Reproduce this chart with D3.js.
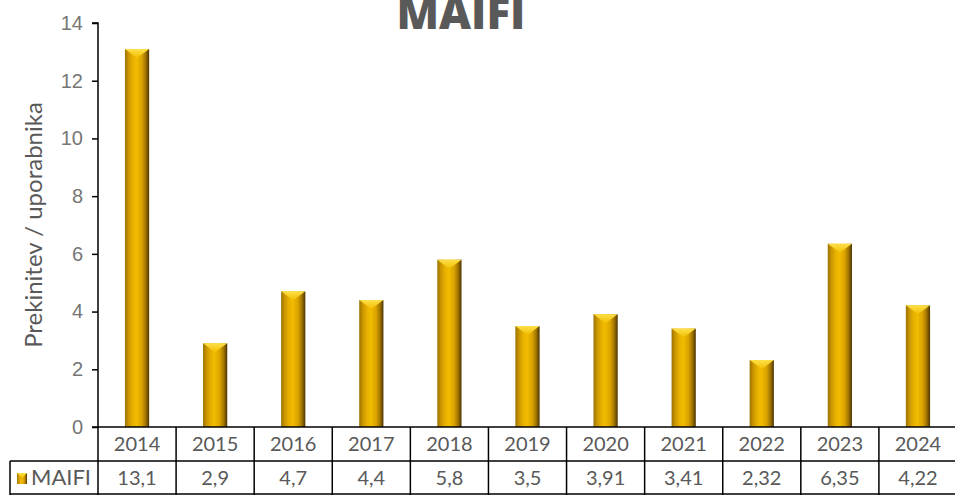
<!DOCTYPE html>
<html>
<head>
<meta charset="utf-8">
<script src="https://cdn.jsdelivr.net/npm/d3@7"></script>
<style>
  html, body { margin: 0; padding: 0; background: #fff; }
  svg { display: block; font-family: Lato, "Open Sans", sans-serif; }
</style>
</head>
<body>
<svg id="chart" width="955" height="495"></svg>
<script>
// MAIFI per year – momentary interruptions per customer
const years = ["2014", "2015", "2016", "2017", "2018", "2019", "2020", "2021", "2022", "2023", "2024"];
const maifi = [13.1, 2.9, 4.7, 4.4, 5.8, 3.5, 3.91, 3.41, 2.32, 6.35, 4.22];
const yTicks = [0, 2, 4, 6, 8, 10, 12, 14];
const seriesName = "MAIFI";
const yLabel = "Prekinitev / uporabnika";

const svg = d3.select("#chart");
const textColor = "#595959";
const tickColor = "#767676";

const plot = { left: 98, right: 957, top: 23, bottom: 427 };
const rowH = 34;

const x = d3.scaleBand().domain(years).range([plot.left, plot.right]).padding(0);
const y = d3.scaleLinear().domain([0, 14]).range([plot.bottom, plot.top]);

// gradients for the bevelled gold bars
const defs = svg.append("defs");
const g = defs.append("linearGradient").attr("id", "gold").attr("x1", "0").attr("x2", "1").attr("y1", "0").attr("y2", "0");
[["0%", "#9a7200"], ["14%", "#c89400"], ["32%", "#e8b000"], ["48%", "#f2bc00"], ["70%", "#d9a200"], ["86%", "#a07400"], ["100%", "#4a3300"]]
  .forEach(([o, c]) => g.append("stop").attr("offset", o).attr("stop-color", c));
const gt = defs.append("linearGradient").attr("id", "goldTop").attr("x1", "0").attr("x2", "0").attr("y1", "0").attr("y2", "1");
gt.append("stop").attr("offset", "0%").attr("stop-color", "#ffe04a");
gt.append("stop").attr("offset", "100%").attr("stop-color", "#f0be00");

// title
svg.append("text")
  .attr("x", 461).attr("y", 29)
  .attr("text-anchor", "middle")
  .attr("font-size", 44).attr("font-weight", 800)
  .attr("font-family", "'Open Sans', Lato, sans-serif")
  .attr("fill", textColor)
  .text(seriesName);

// y axis label
svg.append("text")
  .attr("transform", `translate(42,${(plot.top + plot.bottom) / 2}) rotate(-90)`)
  .attr("text-anchor", "middle")
  .attr("font-size", 24)
  .attr("fill", textColor)
  .text(yLabel);

// bars
const barW = x.bandwidth() * 0.31;
const barX = d => x(d) + (x.bandwidth() - barW) / 2;
const bars = svg.append("g").selectAll("g").data(years).join("g");
bars.append("rect")
  .attr("x", barX)
  .attr("y", (d, i) => y(maifi[i]))
  .attr("width", barW)
  .attr("height", (d, i) => y(0) - y(maifi[i]))
  .attr("fill", "url(#gold)");
// top bevel chevron
bars.append("path")
  .attr("d", (d, i) => {
    const x0 = barX(d), yt = y(maifi[i]);
    return `M${x0},${yt}L${x0 + barW},${yt}L${x0 + barW / 2},${yt + 9}Z`;
  })
  .attr("fill", "url(#goldTop)");

// y axis
const yAxis = svg.append("g")
  .attr("transform", `translate(${plot.left},0)`)
  .call(d3.axisLeft(y).tickValues(yTicks).tickSize(6).tickPadding(9).tickFormat(d3.format("d")));
yAxis.select(".domain").attr("stroke", "#000").attr("stroke-width", 1.5).attr("d", `M-6,${plot.top}H0V${plot.bottom}`);
yAxis.selectAll(".tick line").attr("stroke", "#000").attr("stroke-width", 1.5);
yAxis.selectAll(".tick text").attr("fill", tickColor).attr("font-size", 20);

// data table below the plot
const table = svg.append("g").attr("stroke", "#000").attr("stroke-width", 1.5);
const row1 = plot.bottom, row2 = plot.bottom + rowH, row3 = plot.bottom + 2 * rowH;
table.append("line").attr("x1", plot.left - 6).attr("x2", plot.right).attr("y1", row1).attr("y2", row1);
table.append("line").attr("x1", 10).attr("x2", plot.right).attr("y1", row2).attr("y2", row2);
table.append("line").attr("x1", 10).attr("x2", plot.right).attr("y1", row3 - 1).attr("y2", row3 - 1);
table.append("line").attr("x1", 10).attr("x2", 10).attr("y1", row2).attr("y2", row3);
table.append("line").attr("x1", plot.left).attr("x2", plot.left).attr("y1", row1).attr("y2", row3);
table.selectAll("line.col").data(years).join("line").attr("class", "col")
  .attr("x1", d => x(d) + x.bandwidth()).attr("x2", d => x(d) + x.bandwidth())
  .attr("y1", row1).attr("y2", row3);

svg.append("g").selectAll("text").data(years).join("text")
  .attr("x", d => x(d) + x.bandwidth() / 2)
  .attr("y", row1 + rowH / 2 + 7)
  .attr("text-anchor", "middle")
  .attr("font-size", 20).attr("fill", textColor)
  .text(d => d);

const fmt = v => String(v).replace(".", ",");
svg.append("g").selectAll("text").data(years).join("text")
  .attr("x", d => x(d) + x.bandwidth() / 2)
  .attr("y", row2 + rowH / 2 + 7)
  .attr("text-anchor", "middle")
  .attr("font-size", 20).attr("fill", textColor)
  .text((d, i) => fmt(maifi[i]));

// legend key in the table
svg.append("rect").attr("x", 17).attr("y", row2 + 12).attr("width", 10).attr("height", 11).attr("fill", "url(#gold)");
svg.append("path").attr("d", `M17,${row2 + 12}L27,${row2 + 12}L22,${row2 + 17}Z`).attr("fill", "url(#goldTop)");
svg.append("text")
  .attr("x", 31).attr("y", row2 + rowH / 2 + 7)
  .attr("font-size", 21).attr("fill", textColor)
  .attr("textLength", 60).attr("lengthAdjust", "spacingAndGlyphs")
  .text(seriesName);
</script>
</body>
</html>
